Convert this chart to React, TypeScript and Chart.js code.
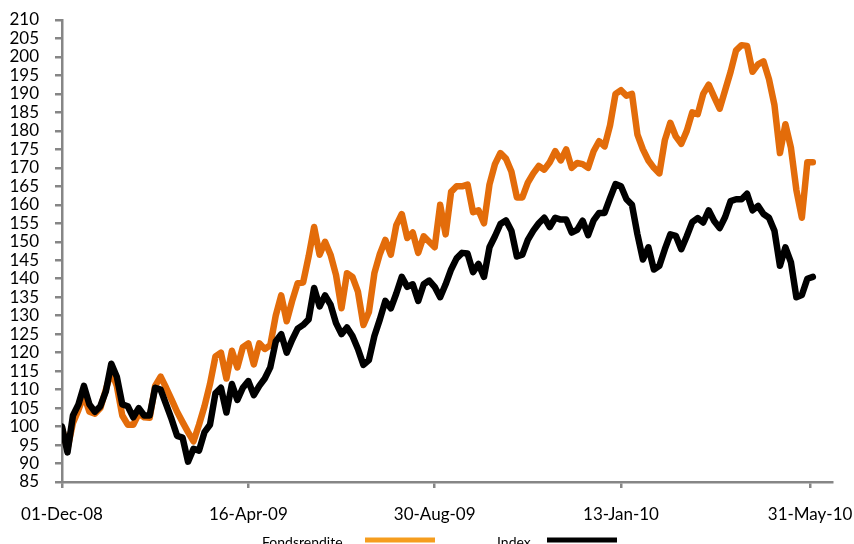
import React, { useEffect, useRef } from "react";
import { Chart, registerables } from "chart.js";

Chart.register(...registerables);

// Sampling of the two series: one value every STEP_DAYS calendar days from START_DATE
const START_DATE = "2008-12-01";
const STEP_DAYS = 4;

const fondsrendite = [
  99.5, 94, 101, 104.5, 108.5, 104, 103.5, 105, 110, 115, 111, 103, 100.5, 100.5, 103.5, 102.5,
  102.4, 111, 113.5, 110.5, 107.3, 104, 101.2, 98.5, 96, 100.5, 105.5, 111.5, 119, 120, 113, 120.5,
  116, 121.5, 122.5, 116.8, 122.5, 121, 122, 130, 135.5, 128.5, 134, 138.8, 139, 146, 154, 146.5,
  150, 146.5, 141, 132, 141.5, 140.5, 136.5, 127.5, 131, 141.5, 146.7, 150.5, 146.5, 154.5, 157.5, 151,
  152.5, 147, 151.5, 150, 148.5, 160, 152, 163.5, 165, 165, 165.5, 158, 158.5, 155, 165.5, 171,
  174, 172.5, 169, 162, 162, 166, 168.5, 170.5, 169.5, 171.5, 174.5, 172, 175, 170, 171.3, 171,
  170, 174.5, 177.2, 175.8, 181.5, 190, 191, 189.5, 190, 179, 175, 172, 170, 168.5, 177.5, 182.2,
  178.5, 176.5, 180, 185, 184.5, 190, 192.5, 189.2, 186, 191, 196, 201.8, 203.2, 203, 196, 198,
  198.8, 194, 187, 174, 181.8, 175.5, 164, 156.5, 171.5, 171.5,
];

const index = [
  100, 93, 103, 106, 111, 106, 104, 105.5, 109.5, 117, 113.5, 106, 105.5, 102.5, 105, 103,
  103, 110.5, 110, 106, 102, 97.5, 97, 90.5, 94, 93.5, 98.5, 100.5, 109, 110.5, 103.8, 111.5,
  107.2, 110.5, 112.3, 108.5, 111, 113, 116, 123, 125, 120, 123.5, 126.5, 127.5, 129, 137.5, 132.5,
  135.5, 133, 128, 125, 126.8, 124.5, 121, 116.7, 118, 124.5, 129, 134, 132, 136, 140.5, 137.8,
  138.5, 134, 138.5, 139.5, 137.8, 135, 138.5, 142.5, 145.5, 147, 146.8, 141.8, 144, 140.5, 148.5, 151.5,
  154.8, 155.8, 153, 146, 146.5, 150.5, 153, 155, 156.5, 154, 156.5, 156, 156, 152.5, 153.2, 155.7,
  151.8, 155.8, 157.8, 157.8, 161.8, 165.6, 165, 161.5, 160, 152, 145.2, 148.5, 142.5, 143.5, 148, 152,
  151.6, 148, 151.5, 155.3, 156.4, 155.2, 158.5, 155.6, 153.7, 156.7, 161, 161.5, 161.5, 163, 158.5, 159.7,
  157.5, 156.5, 153, 143.5, 148.5, 144.5, 135, 135.6, 140, 140.5,
];

const tickDates = ["2008-12-01", "2009-04-16", "2009-08-30", "2010-01-13", "2010-05-31"];
const tickLabels = ["01-Dec-08", "16-Apr-09", "30-Aug-09", "13-Jan-10", "31-May-10"];
const X_MAX_DATE = "2010-06-16";

const seriesLabels = ["Fondsrendite", "Index"];
const lineColors = ["#E36C0A", "#000000"];
const legendColors = ["#F59D1E", "#000000"];

const DAY = 86400000;
const dayOffset = (iso: string) => (Date.parse(iso) - Date.parse(START_DATE)) / DAY;

const FONT = "Lato, 'Open Sans', sans-serif";

export default function App() {
  const ref = useRef<HTMLCanvasElement | null>(null);

  useEffect(() => {
    if (!ref.current) return;
    const toPoints = (vals: number[]) => vals.map((v, i) => ({ x: i * STEP_DAYS, y: v }));
    const tickValues = tickDates.map(dayOffset);

    const legendPlugin = {
      id: "customLegend",
      afterDraw(chart: any) {
        const ctx = chart.ctx;
        ctx.save();
        ctx.font = `14px ${FONT}`;
        ctx.fillStyle = "#000";
        ctx.textBaseline = "alphabetic";
        const items = [
          { tx: 262, lx0: 365, lx1: 435 },
          { tx: 497, lx0: 547, lx1: 617 },
        ];
        chart.data.datasets.forEach((ds: any, i: number) => {
          const it = items[i];
          ctx.fillText(ds.label, it.tx, 547);
          ctx.strokeStyle = legendColors[i];
          ctx.lineWidth = 5;
          ctx.beginPath();
          ctx.moveTo(it.lx0, 540);
          ctx.lineTo(it.lx1, 540);
          ctx.stroke();
        });
        ctx.restore();
      },
    };

    const chart = new Chart(ref.current, {
      type: "line",
      data: {
        datasets: [
          {
            label: seriesLabels[0],
            data: toPoints(fondsrendite),
            borderColor: lineColors[0],
            backgroundColor: lineColors[0],
            borderWidth: 6.5,
            pointRadius: 0,
            tension: 0,
            borderJoinStyle: "round",
            borderCapStyle: "round",
            order: 1,
          },
          {
            label: seriesLabels[1],
            data: toPoints(index),
            borderColor: lineColors[1],
            backgroundColor: lineColors[1],
            borderWidth: 6.5,
            pointRadius: 0,
            tension: 0,
            borderJoinStyle: "round",
            borderCapStyle: "round",
            order: 0,
          },
        ],
      },
      options: {
        animation: false,
        responsive: false,
        maintainAspectRatio: false,
        devicePixelRatio: 1,
        layout: { padding: { left: 0, right: 22, top: 20, bottom: 0 } },
        plugins: { legend: { display: false }, tooltip: { enabled: false } },
        scales: {
          x: {
            type: "linear",
            min: 0,
            max: dayOffset(X_MAX_DATE),
            afterBuildTicks: (scale: any) => {
              scale.ticks = tickValues.map((v) => ({ value: v }));
            },
            afterFit: (scale: any) => {
              scale.height = 62;
              scale.paddingLeft = 0;
              scale.paddingRight = 0;
            },
            ticks: {
              autoSkip: false,
              maxRotation: 0,
              padding: 16,
              color: "#000",
              font: { family: FONT, size: 17 },
              callback: (_v: any, i: number) => tickLabels[i],
            },
            grid: {
              display: true,
              drawOnChartArea: false,
              drawTicks: true,
              tickLength: 6,
              color: "#868686",
              lineWidth: 2.5,
            },
            border: { display: true, color: "#868686", width: 2.5 },
          },
          y: {
            min: 85,
            max: 210,
            afterFit: (scale: any) => {
              scale.width = 62;
              scale.paddingTop = 0;
              scale.paddingBottom = 0;
            },
            ticks: {
              stepSize: 5,
              autoSkip: false,
              padding: 16,
              color: "#000",
              font: { family: FONT, size: 17 },
            },
            grid: {
              display: true,
              drawOnChartArea: false,
              drawTicks: true,
              tickLength: 7,
              color: "#868686",
              lineWidth: 2.5,
            },
            border: { display: true, color: "#868686", width: 2.5 },
          },
        },
      },
      plugins: [legendPlugin],
    } as any);

    return () => chart.destroy();
  }, []);

  return (
    <div style={{ position: "absolute", left: 0, top: 0, width: 854, height: 544, background: "#fff" }}>
      <canvas ref={ref} width={854} height={544} style={{ width: 854, height: 544 }} />
    </div>
  );
}
